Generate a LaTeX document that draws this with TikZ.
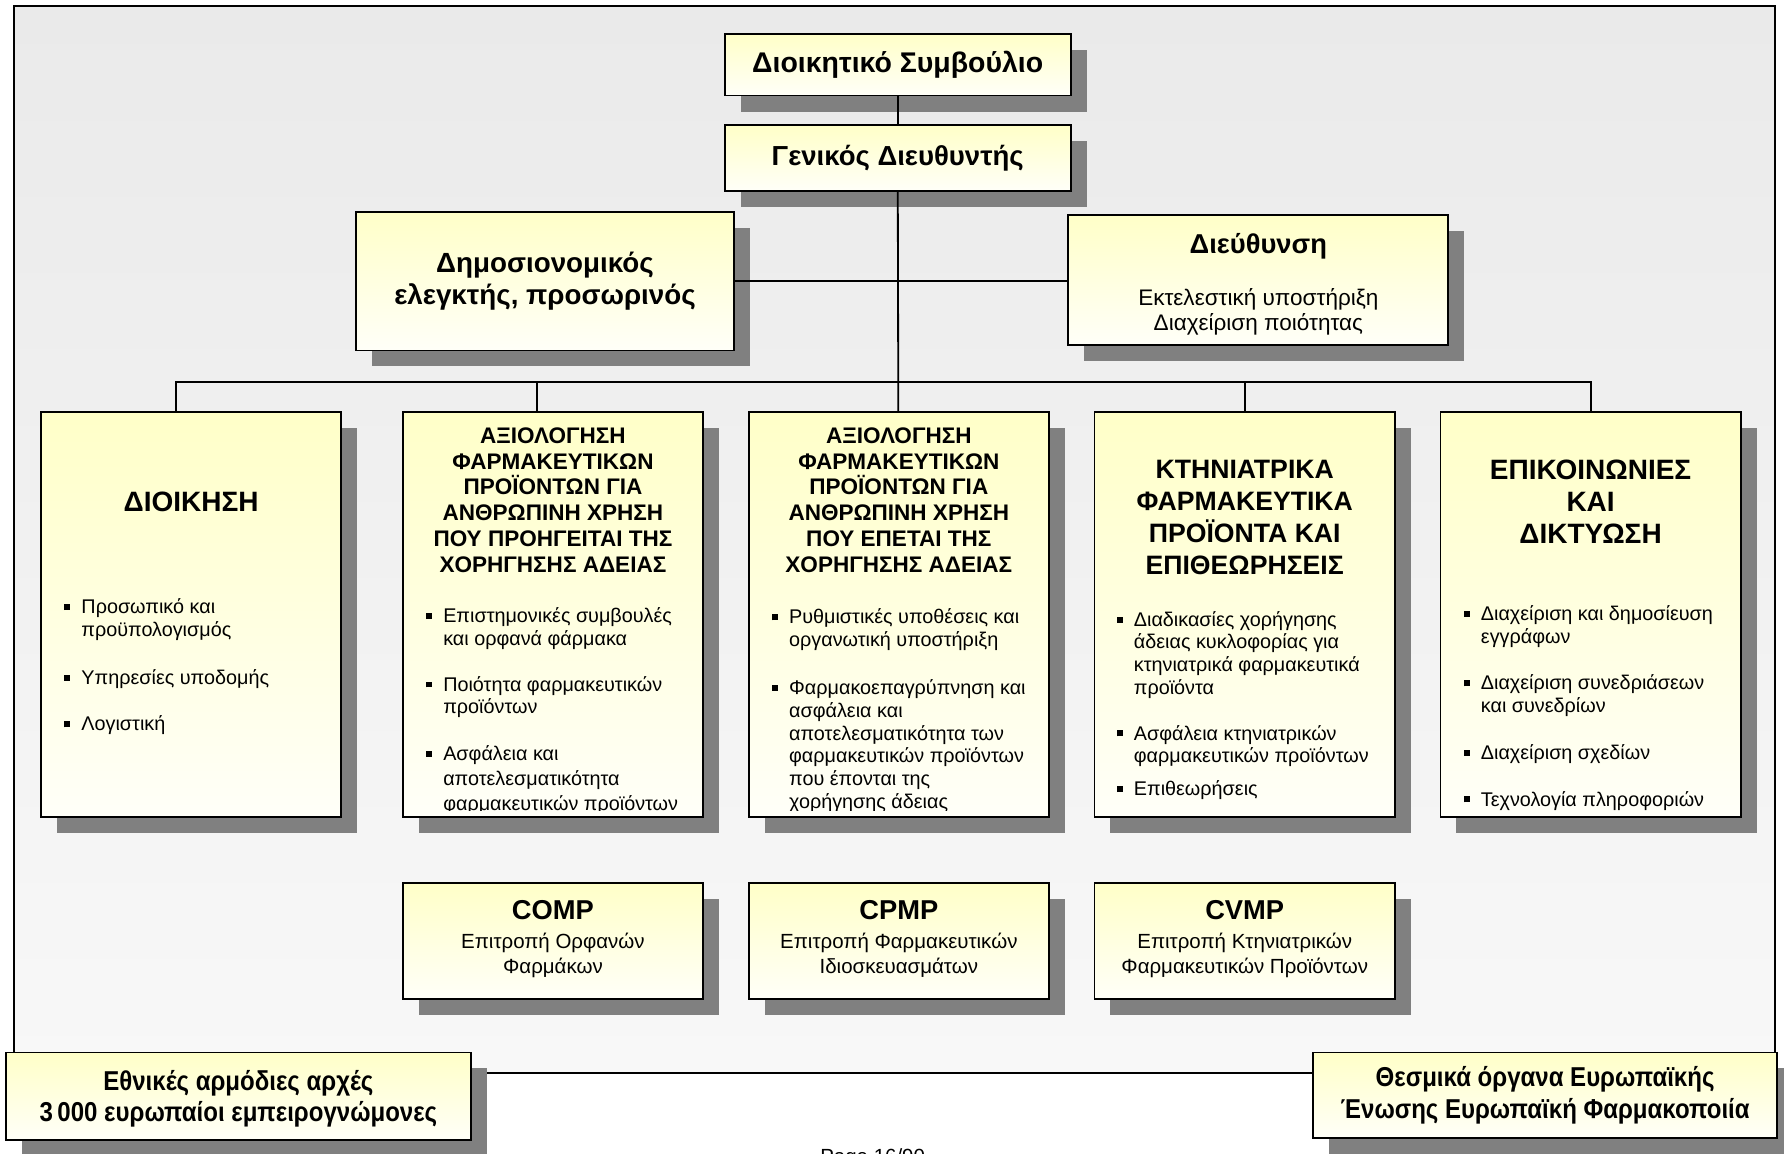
\documentclass[tikz,border=0pt]{standalone}
\usepackage{fontspec}
\setmainfont{Liberation Sans}
\newfontfamily\narrowfont[FakeStretch=0.88]{Liberation Sans}
\usepackage{tikz}
\usetikzlibrary{positioning,calc,shadows}
\definecolor{paper}{RGB}{234,234,234}
\definecolor{paperlow}{RGB}{248,248,248}
\definecolor{boxtop}{RGB}{255,255,200}
\definecolor{boxlow}{RGB}{255,255,248}
\definecolor{shade}{RGB}{128,128,128}
\newcommand{\fsz}[2]{\fontsize{#1}{#2}\selectfont}
\newcommand{\sq}{\rule[1.6pt]{2.6pt}{2.6pt}}
\newcommand{\stk}[1]{\begin{tabular}{@{}c@{}}#1\end{tabular}}

\begin{document}
\begin{tikzpicture}[x=0.5pt, y=-0.5pt,
  orgbox/.style={draw, line width=0.8pt, top color=boxtop, bottom color=boxlow, outer sep=0pt, inner sep=0pt, align=center,
    drop shadow={shadow xshift=7pt, shadow yshift=-7pt, fill=shade, opacity=1}},
  colbox/.style={orgbox, minimum width=132pt, minimum height=178pt},
  combox/.style={orgbox, minimum width=132pt, minimum height=51pt, font=\fsz{9}{11}},
  coltitle/.style={align=center, inner sep=0pt, font=\bfseries\fsz{9.9}{11.3}},
  bullets/.style={anchor=north west, inner sep=0pt, font=\fsz{8.7}{10}},
  link/.style={line width=0.8pt}]
  \useasboundingbox (0,0) rectangle (1568,1014);
  % frame
  \draw[line width=1pt, top color=paper, bottom color=paperlow] (12,5) rectangle (1560,943);
  % top of the chart
  \node[orgbox, minimum width=152pt, minimum height=27pt, font=\bfseries\fsz{12.5}{14}] (board) at (789,57) {Διοικητικό Συμβούλιο};
  \node[orgbox, minimum width=152pt, minimum height=29pt, font=\bfseries\fsz{12.1}{14}, below=13pt of board] (gm) {Γενικός Διευθυντής};
  \node[orgbox, minimum width=166pt, minimum height=61pt, font=\bfseries\fsz{12.2}{14}] (audit) at (479,247) {Δημοσιονομικός\\ελεγκτής, προσωρινός};
  \node[orgbox, minimum width=167pt, minimum height=57pt, font=\fsz{9.9}{11}] (exec) at (1106,246)
       {\raisebox{-2.5pt}[\height][\depth]{\stk{{\bfseries\fsz{12}{13}Διεύθυνση}\\[12pt]Εκτελεστική υποστήριξη\\Διαχείριση ποιότητας}}};
  % units
  \node[colbox] (c3) at (790,540) {};
  \node[colbox, left=20pt of c3] (c2) {};
  \node[colbox, left=27pt of c2] (c1) {};
  \node[colbox, right=20pt of c3] (c4) {};
  \node[colbox, right=20pt of c4] (c5) {};
  \node[coltitle, font=\bfseries\fsz{12.3}{14}] (t1) at ([yshift=-39.5pt]c1.north) {ΔΙΟΙΚΗΣΗ};
  \node[coltitle] (t2) at ([yshift=-38.75pt]c2.north)
       {ΑΞΙΟΛΟΓΗΣΗ\\ΦΑΡΜΑΚΕΥΤΙΚΩΝ\\ΠΡΟΪΟΝΤΩΝ ΓΙΑ\\ΑΝΘΡΩΠΙΝΗ ΧΡΗΣΗ\\ΠΟΥ ΠΡΟΗΓΕΙΤΑΙ ΤΗΣ\\ΧΟΡΗΓΗΣΗΣ ΑΔΕΙΑΣ};
  \node[coltitle] (t3) at ([yshift=-38.75pt]c3.north)
       {ΑΞΙΟΛΟΓΗΣΗ\\ΦΑΡΜΑΚΕΥΤΙΚΩΝ\\ΠΡΟΪΟΝΤΩΝ ΓΙΑ\\ΑΝΘΡΩΠΙΝΗ ΧΡΗΣΗ\\ΠΟΥ ΕΠΕΤΑΙ ΤΗΣ\\ΧΟΡΗΓΗΣΗΣ ΑΔΕΙΑΣ};
  \node[coltitle, font=\bfseries\fsz{11.7}{14}] (t4) at ([yshift=-46.5pt]c4.north) {ΚΤΗΝΙΑΤΡΙΚΑ\\ΦΑΡΜΑΚΕΥΤΙΚΑ\\ΠΡΟΪΟΝΤΑ ΚΑΙ\\ΕΠΙΘΕΩΡΗΣΕΙΣ};
  \node[coltitle, font=\bfseries\fsz{12.3}{14}] (t5) at ([yshift=-39.5pt]c5.north) {ΕΠΙΚΟΙΝΩΝΙΕΣ\\ΚΑΙ\\ΔΙΚΤΥΩΣΗ};
  % task lists
  \node[bullets] (l1) at ([xshift=10pt, yshift=-81.5pt]c1.north west) {\begin{tabular}{@{}l@{\hspace{5pt}}l@{}}
    \sq & Προσωπικό και\\ & προϋπολογισμός\\[11pt]
    \sq & Υπηρεσίες υποδομής\\[10.5pt]
    \sq & Λογιστική
  \end{tabular}};
  \begin{scope}
    \clip ([yshift=3pt]c2.south west) rectangle (c2.north east);
    \node[bullets] (l2) at ([xshift=10pt, yshift=-85.5pt]c2.north west) {\begin{tabular}{@{}l@{\hspace{5pt}}l@{}}
      \sq & Επιστημονικές συμβουλές\\ & και ορφανά φάρμακα\\[10pt]
      \sq & Ποιότητα φαρμακευτικών\\ & προϊόντων\\[10.5pt]
      \sq & Ασφάλεια και\\[1pt] & αποτελεσματικότητα\\[1pt] & φαρμακευτικών προϊόντων
    \end{tabular}};
  \end{scope}
  \begin{scope}
    \clip ([yshift=3pt]c3.south west) rectangle (c3.north east);
    \node[bullets] (l3) at ([xshift=10pt, yshift=-86pt]c3.north west) {\begin{tabular}{@{}l@{\hspace{5pt}}l@{}}
      \sq & Ρυθμιστικές υποθέσεις και\\ & οργανωτική υποστήριξη\\[11pt]
      \sq & Φαρμακοεπαγρύπνηση και\\ & ασφάλεια και\\ & αποτελεσματικότητα των\\ & φαρμακευτικών προϊόντων\\ & που έπονται της\\ & χορήγησης άδειας
    \end{tabular}};
  \end{scope}
  \node[bullets] (l4) at ([xshift=9.5pt, yshift=-87pt]c4.north west) {\begin{tabular}{@{}l@{\hspace{5pt}}l@{}}
    \sq & Διαδικασίες χορήγησης\\ & άδειας κυκλοφορίας για\\ & κτηνιατρικά φαρμακευτικά\\ & προϊόντα\\[10pt]
    \sq & Ασφάλεια κτηνιατρικών\\ & φαρμακευτικών προϊόντων\\[4.5pt]
    \sq & Επιθεωρήσεις
  \end{tabular}};
  \node[bullets] (l5) at ([xshift=10pt, yshift=-84.5pt]c5.north west) {\begin{tabular}{@{}l@{\hspace{5pt}}l@{}}
    \sq & Διαχείριση και δημοσίευση\\ & εγγράφων\\[10.5pt]
    \sq & Διαχείριση συνεδριάσεων\\ & και συνεδρίων\\[10.5pt]
    \sq & Διαχείριση σχεδίων\\[10.5pt]
    \sq & Τεχνολογία πληροφοριών
  \end{tabular}};
  % committees
  \node[combox, below=29pt of c2] (comp) {\stk{{\bfseries\fsz{12}{13}COMP}\\[1.5pt]Επιτροπή Ορφανών\\Φαρμάκων}};
  \node[combox, below=29pt of c3] (cpmp) {\stk{{\bfseries\fsz{12}{13}CPMP}\\[1.5pt]Επιτροπή Φαρμακευτικών\\Ιδιοσκευασμάτων}};
  \node[combox, below=29pt of c4] (cvmp) {\stk{{\bfseries\fsz{12}{13}CVMP}\\[1.5pt]Επιτροπή Κτηνιατρικών\\Φαρμακευτικών Προϊόντων}};
  % outside partners
  \node[orgbox, minimum width=204.5pt, minimum height=38.5pt, font=\narrowfont\bfseries\fsz{12}{14}] (nat) at (209.5,963.5)
       {\raisebox{-1.5pt}[\height][\depth]{\stk{Εθνικές αρμόδιες αρχές\\3\,000 ευρωπαίοι εμπειρογνώμονες}}};
  \node[orgbox, minimum width=204pt, minimum height=37.5pt, font=\narrowfont\bfseries\fsz{12}{14}] (euinst) at (1358,962.5)
       {Θεσμικά όργανα Ευρωπαϊκής\\Ένωσης Ευρωπαϊκή Φαρμακοποιία};
  \node[anchor=north, inner sep=0pt, font=\fsz{9}{10}] (pg) at (767,1009) {Page 16/90};
  % lines
  \coordinate (bus) at (790,336);
  \coordinate (d1) at ($(c1.north west)!0.45!(c1.north east)$);
  \coordinate (d2) at ($(c2.north west)!0.447!(c2.north east)$);
  \draw[link] (board) -- (gm);
  \draw[link] (gm) -- (c3);
  \draw[link] (audit.east) -- (audit.east -| exec.west);
  \draw[link] (d1) |- (bus) -| (c5);
  \draw[link] (d2) -- (d2 |- bus);
  \draw[link] (c4.north) -- (c4.north |- bus);
\end{tikzpicture}
\end{document}
